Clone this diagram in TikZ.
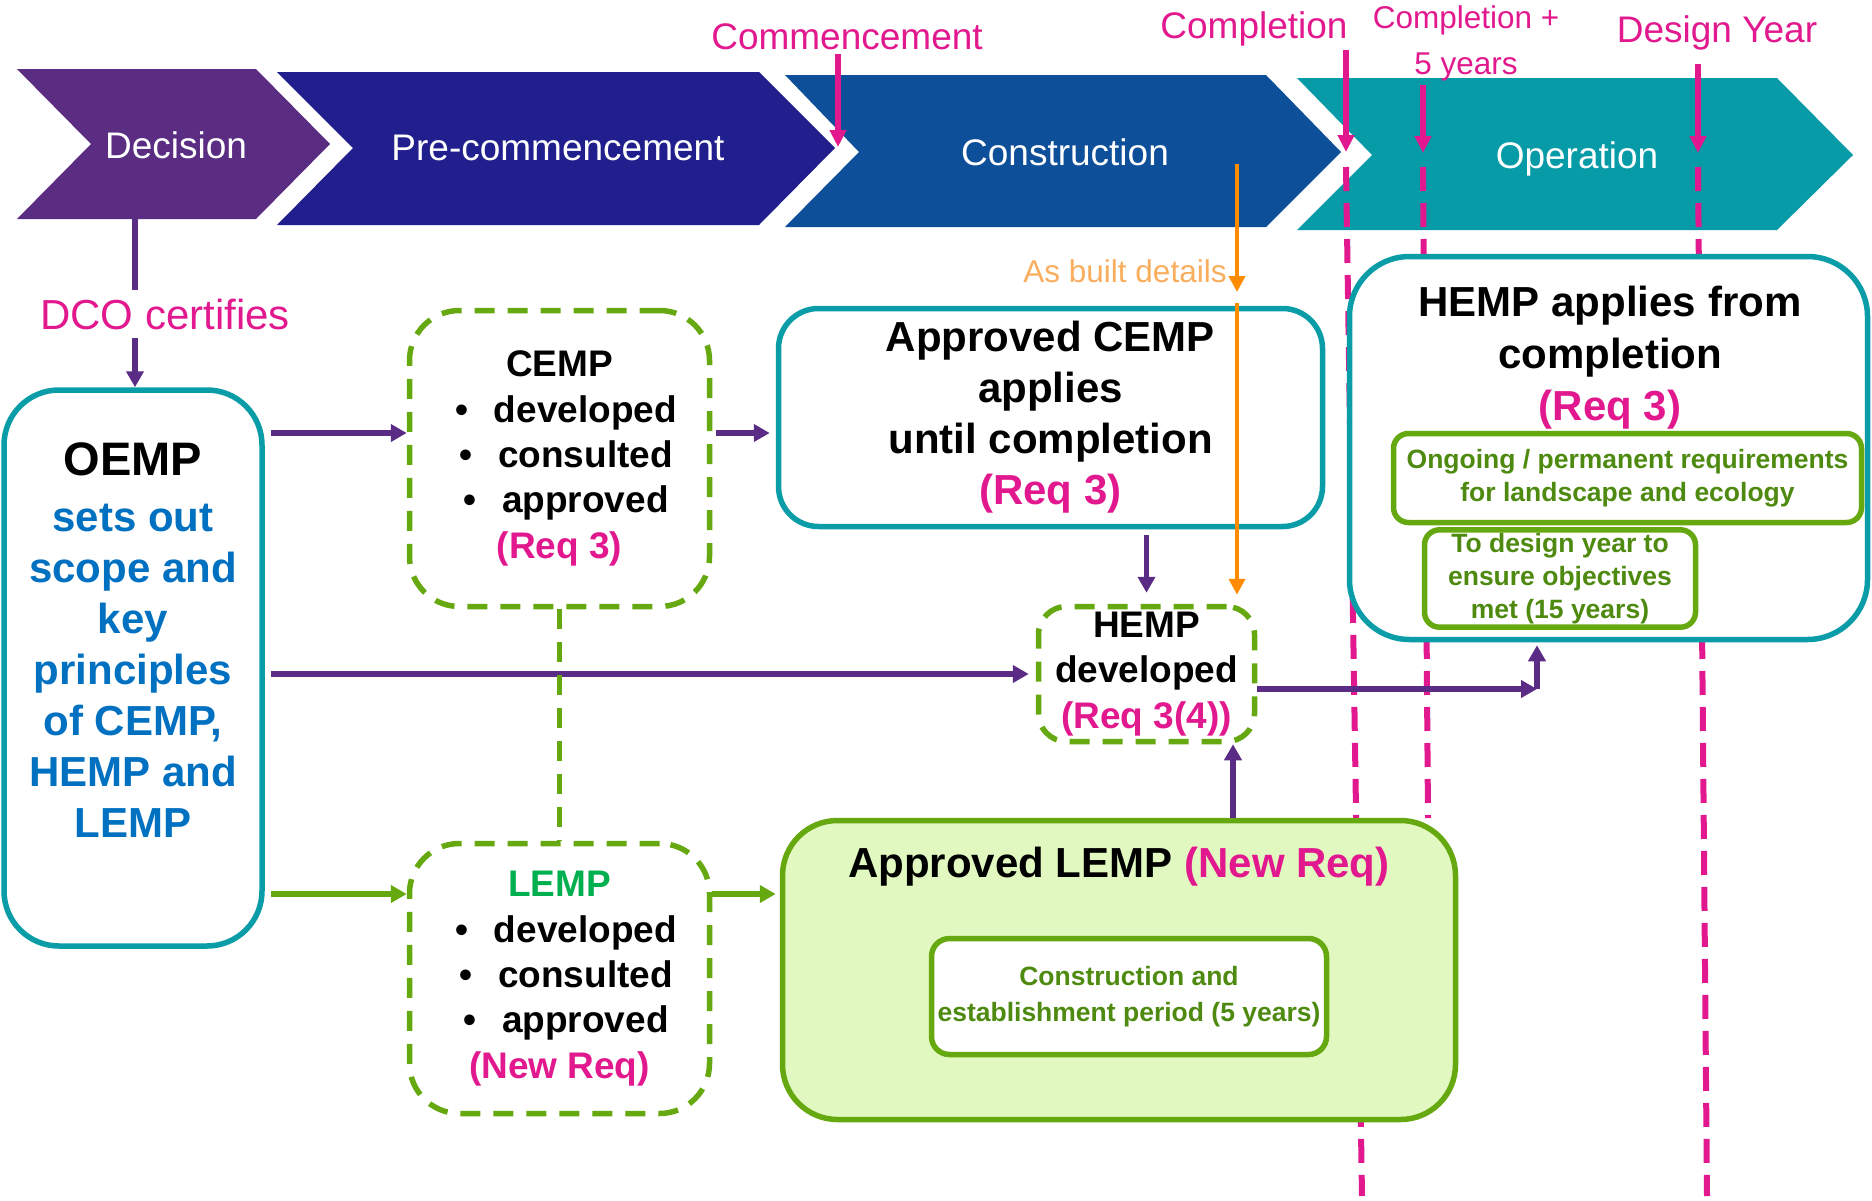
\documentclass[tikz,border=0pt]{standalone}
\usepackage{fontspec}
\setmainfont{Liberation Sans}
\usetikzlibrary{arrows.meta}

\definecolor{decpurple}{HTML}{5A2D82}
\definecolor{prenavy}{HTML}{211F8D}
\definecolor{conblue}{HTML}{0E4F9A}
\definecolor{opteal}{HTML}{069BA6}
\definecolor{boxteal}{HTML}{0A9DA8}
\definecolor{lgreen}{HTML}{66A80F}
\definecolor{dgreen}{HTML}{4F8A10}
\definecolor{lempgreen}{HTML}{00B050}
\definecolor{palegreen}{HTML}{E1F9C1}
\definecolor{mag}{HTML}{E2198E}
\definecolor{oblue}{HTML}{0070C0}
\definecolor{linepurple}{HTML}{5B2C86}
\definecolor{asborange}{HTML}{FF8C00}
\definecolor{asbtext}{HTML}{F9AE5E}

\newcommand{\fsz}[2]{\fontsize{#1}{#2}\selectfont}
\newcommand{\planbullet}{\hspace*{13pt}•\hspace{26pt}}

\begin{document}
\begin{tikzpicture}[x = 1pt, y = -1pt,
	chevtext/.style = {text = white, font = \fsz{37}{44}},
	stagelabel/.style = {text = mag, font = \fsz{37}{44}, inner sep = 4pt},
	stagearrow/.style = {draw = mag, line width = 5.5pt, -{Triangle[length = 17pt, width = 16pt]}},
	timeline/.style = {draw = mag, line width = 6pt, dash pattern = on 24pt off 12pt},
	tealbox/.style = {draw = boxteal, line width = 5.5pt, fill = white, rounded corners = #1, align = center},
	dashbox/.style = {draw = lgreen, line width = 5.5pt, dash pattern = on 20pt off 13pt, rounded corners = #1, align = center, font = \fsz{37}{45.3}\bfseries},
	greenbox/.style = {draw = lgreen, line width = 5.5pt, rounded corners = #1, align = center, text = dgreen, font = \fsz{26.5}{33}\bfseries},
	conn/.style = {draw = linepurple, line width = 5.5pt, -{Triangle[length = 16pt, width = 17pt]}},
	gconn/.style = {conn, draw = lgreen},
	asbarrow/.style = {draw = asborange, line width = 4.5pt, -{Triangle[length = 16pt, width = 16pt]}}
	]
	\useasboundingbox (0,0) rectangle (1872,1200);
	\fill[white] (0,0) rectangle (1872,1200);

	% stages
	\fill[decpurple] (17,69) -- (256,69) -- (330,144) -- (256,219) -- (17,219) -- (91,144) -- cycle;
	\fill[prenavy] (277,72) -- (759,72) -- (835,148) -- (759,225) -- (277,225) -- (353,148) -- cycle;
	\fill[conblue] (785,75) -- (1266,75) -- (1341,152) -- (1266,227) -- (785,227) -- (859,152) -- cycle;
	\fill[opteal] (1297,78) -- (1777,78) -- (1853,155) -- (1777,230) -- (1297,230) -- (1372,155) -- cycle;
	\node[chevtext] (dec) at (176,145) {Decision};
	\node[chevtext] (pre) at (558,148) {Pre-commencement};
	\node[chevtext] (con) at (1065,152) {Construction};
	\node[chevtext] (op) at (1577,159) {Operation};

	% milestones
	\node[stagelabel] (comm) at (847,37) {Commencement};
	\node[stagelabel] (compl) at (1254,29) {Completion};
	\node[stagelabel, font = \fsz{31.5}{46}, align = center] (compl5) at (1466,43) {Completion +\\5 years};
	\node[stagelabel] (dyear) at (1717,33) {Design Year};
	\coordinate (commtip) at (838,147);
	\coordinate (compltip) at (1346,152);
	\coordinate (c5tip) at (1423,153);
	\coordinate (dytip) at (1698,153);
	\coordinate (complend) at (1362,1196);
	\coordinate (c5end) at (1428,818);
	\coordinate (dyend) at (1707,1196);
	\draw[stagearrow] (comm.south -| commtip) -- (commtip);
	\draw[stagearrow] (compl.south -| compltip) -- (compltip);
	\draw[stagearrow] (compl5.south -| c5tip) -- (c5tip);
	\draw[stagearrow, shorten <= 10pt] (dyear.south -| dytip) -- (dytip);
	\draw[timeline] ([yshift = -15pt]compltip) -- (complend);
	\draw[timeline] ([yshift = -14pt]c5tip) -- (c5end);
	\draw[timeline] ([yshift = -14pt]dytip) -- (dyend);

	\node[text = mag, font = \fsz{42}{50}, inner sep = 8pt] (dco) at (165,314) {DCO certifies};
	\node[font = \fsz{31.5}{38}, text = asbtext] (asbt) at (1125,271) {As built details};

	% plans
	\node[tealbox = 55pt, minimum width = 258pt, minimum height = 556pt] (oemp) at (133,668) {};
	\node[align = center, font = \fsz{42}{51}\bfseries, text = oblue] (oempt) at (133,640) {{\color{black}\fsz{47}{56}OEMP}\\[5pt]sets out\\scope and\\key\\principles\\of CEMP,\\HEMP and\\LEMP};
	\node[dashbox = 50pt, minimum width = 300pt, minimum height = 296pt] (cemp) at (559.5,458.5) {CEMP\\\planbullet developed\\\planbullet consulted\\\planbullet approved\\{\color{mag}(Req 3)}};
	\node[tealbox = 40pt, minimum width = 544pt, minimum height = 218pt, font = \fsz{42}{51}\bfseries] (acemp) at (1050.5,417.5) {Approved CEMP\\applies\\until completion\\{\color{mag}(Req 3)}};
	\node[dashbox = 28pt, minimum width = 216pt, minimum height = 135pt, fill = white] (hdev) at (1146.5,674) {HEMP\\developed\\{\color{mag}(Req 3(4))}};
	\node[tealbox = 60pt, minimum width = 518pt, minimum height = 383pt] (happ) at (1608.5,448) {};
	\node[align = center, font = \fsz{42}{52}\bfseries] (happt) at (1610,358) {HEMP applies from\\completion\\{\color{mag}(Req 3)}};
	\node[greenbox = 15pt, minimum width = 468pt, minimum height = 89pt] (ongo) at (1627.5,478) {Ongoing / permanent requirements\\for landscape and ecology};
	\node[greenbox = 15pt, minimum width = 271pt, minimum height = 90pt] (tdy) at (1560,578.5) {To design year to\\ensure objectives\\met (15 years)};
	\node[dashbox = 50pt, minimum width = 300pt, minimum height = 270pt] (lemp) at (559.5,978.5) {{\color{lempgreen}LEMP}\\\planbullet developed\\\planbullet consulted\\\planbullet approved\\{\color{mag}(New Req)}};
	\node[draw = lgreen, line width = 5.5pt, fill = palegreen, rounded corners = 55pt, minimum width = 673pt, minimum height = 299pt] (alemp) at (1119,970) {};
	\node[font = \fsz{42}{51}\bfseries] (alempt) at (1119,867) {Approved LEMP {\color{mag}(New Req)}};
	\node[greenbox = 18pt, minimum width = 395pt, minimum height = 116pt, fill = white, font = \fsz{26.5}{36}\bfseries] (cep) at (1129,996.5) {Construction and\\establishment period (5 years)};

	% as built details
	\coordinate (asbtop) at (1237,164);
	\coordinate (asbmid) at (1237,292);
	\draw[asbarrow] (asbtop) -- (asbmid);
	\draw[asbarrow, shorten >= 9pt] ([yshift = -11pt]asbmid) -- (asbmid |- hdev.north);

	% flows
	\coordinate (decbot) at (135,219);
	\coordinate (row1) at (0,433);
	\coordinate (row3) at (0,894);
	\coordinate (bend) at (1537,689);
	\coordinate (ahx) at (1233,0);
	\draw[conn, -] (decbot) -- (decbot |- dco.north);
	\draw[conn] (decbot |- dco.south) -- (decbot |- oemp.north);
	\draw[conn, shorten <= 6pt] (oemp.east |- row1) -- (cemp.west |- row1);
	\draw[conn, shorten <= 4pt, shorten >= 6pt] (cemp.east |- row1) -- (acemp.west |- row1);
	\draw[conn, shorten <= 6pt, shorten >= 7pt] (oemp.east |- hdev.west) -- (hdev.west);
	\draw[conn, shorten <= 6pt, shorten >= 11pt] (hdev.north |- acemp.south) -- (hdev.north);
	\draw[conn] (hdev.east |- bend) -- (bend);
	\draw[conn, shorten >= 3pt] (bend) -- (bend |- happ.south);
	\draw[conn] (ahx |- alemp.north) -- (ahx |- hdev.south);
	\draw[gconn, shorten <= 6pt] (oemp.east |- row3) -- (lemp.west |- row3);
	\draw[gconn, shorten >= 4pt] (lemp.east |- row3) -- (alemp.west |- row3);
	\draw[draw = lgreen, line width = 5.5pt, dash pattern = on 20pt off 13pt] (cemp.south) -- (lemp.north);
\end{tikzpicture}
\end{document}
